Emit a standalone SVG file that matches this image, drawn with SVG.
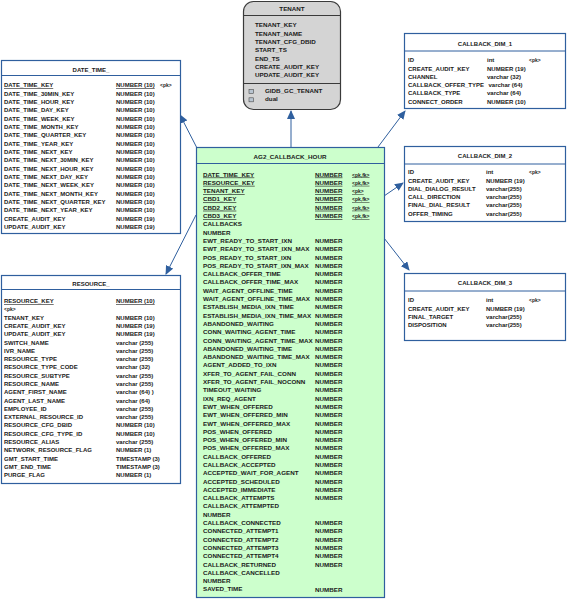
<svg xmlns="http://www.w3.org/2000/svg" width="567" height="599" viewBox="0 0 567 599">
<style>
.bg{fill:#ffffff}
.box{fill:#ffffff;stroke:#2f5f9e;stroke-width:1.2}
.ag2{fill:#ccffcc;stroke:#2f5f9e;stroke-width:1.2}
.ten{fill:#d4d4d4;stroke:#3a3a3a;stroke-width:1.2}
.sep{stroke:#2f5f9e;stroke-width:1}
.tsep{stroke:#3a3a3a;stroke-width:1}
.t{font-family:"Liberation Sans",Arial,sans-serif;font-size:6px;font-weight:bold;fill:#1a1a1a}
.l{font-size:6.25px}
.h{text-anchor:middle}
.pk{font-size:5px}
.u{text-decoration:underline}
.conn{stroke:#2f5f9e;stroke-width:1;fill:none;marker-end:url(#ah)}
.ico{fill:#b8c4d0;stroke:#4a4a4a;stroke-width:0.6}
</style>
<defs>
<marker id="ah" markerUnits="userSpaceOnUse" markerWidth="9" markerHeight="8" refX="8" refY="4" orient="auto">
<path d="M0,0 L9,4 L0,8 z" fill="#2f5f9e"/>
</marker>
</defs>
<rect class="bg" x="0" y="0" width="567" height="599"/>

<g id="connectors">
<line class="conn" x1="291" y1="147" x2="291" y2="111"/>
<line class="conn" x1="198" y1="150" x2="180" y2="115"/>
<line class="conn" x1="378" y1="147" x2="405" y2="111"/>
<line class="conn" x1="384" y1="196" x2="403" y2="183"/>
<line class="conn" x1="384" y1="238" x2="409" y2="270"/>
<line class="conn" x1="196" y1="215" x2="166" y2="274"/>
</g>

<g id="TENANT">
<rect class="ten" x="243.5" y="1.5" width="97" height="108" rx="10"/>
<line class="tsep" x1="243.5" y1="15.5" x2="340.5" y2="15.5"/>
<line class="tsep" x1="243.5" y1="83.5" x2="340.5" y2="83.5"/>
<text class="t l h" x="292" y="11">TENANT</text>
<text class="t l" x="255" y="27.2">TENANT_KEY<tspan x="255" dy="8.35">TENANT_NAME</tspan><tspan x="255" dy="8.35">TENANT_CFG_DBID</tspan><tspan x="255" dy="8.35">START_TS</tspan><tspan x="255" dy="8.35">END_TS</tspan><tspan x="255" dy="8.35">CREATE_AUDIT_KEY</tspan><tspan x="255" dy="8.35">UPDATE_AUDIT_KEY</tspan></text>
<rect class="ico" x="249" y="89.5" width="4.5" height="4"/>
<rect class="ico" x="249" y="97.8" width="4.5" height="4"/>
<text class="t l" x="265" y="92.9">GIDB_GC_TENANT<tspan x="265" dy="8.35">dual</tspan></text>
</g>

<g id="DATE_TIME_">
<rect class="box" x="1.5" y="60.5" width="179" height="173"/>
<line class="sep" x1="1.5" y1="75.5" x2="180.5" y2="75.5"/>
<text class="t h" x="91" y="72">DATE_TIME_</text>
<text class="t" x="4" y="87.2"><tspan class="u">DATE_TIME_KEY</tspan><tspan x="4" dy="8.35">DATE_TIME_30MIN_KEY</tspan><tspan x="4" dy="8.35">DATE_TIME_HOUR_KEY</tspan><tspan x="4" dy="8.35">DATE_TIME_DAY_KEY</tspan><tspan x="4" dy="8.35">DATE_TIME_WEEK_KEY</tspan><tspan x="4" dy="8.35">DATE_TIME_MONTH_KEY</tspan><tspan x="4" dy="8.35">DATE_TIME_QUARTER_KEY</tspan><tspan x="4" dy="8.35">DATE_TIME_YEAR_KEY</tspan><tspan x="4" dy="8.35">DATE_TIME_NEXT_KEY</tspan><tspan x="4" dy="8.35">DATE_TIME_NEXT_30MIN_KEY</tspan><tspan x="4" dy="8.35">DATE_TIME_NEXT_HOUR_KEY</tspan><tspan x="4" dy="8.35">DATE_TIME_NEXT_DAY_KEY</tspan><tspan x="4" dy="8.35">DATE_TIME_NEXT_WEEK_KEY</tspan><tspan x="4" dy="8.35">DATE_TIME_NEXT_MONTH_KEY</tspan><tspan x="4" dy="8.35">DATE_TIME_NEXT_QUARTER_KEY</tspan><tspan x="4" dy="8.35">DATE_TIME_NEXT_YEAR_KEY</tspan><tspan x="4" dy="8.35">CREATE_AUDIT_KEY</tspan><tspan x="4" dy="8.35">UPDATE_AUDIT_KEY</tspan></text>
<text class="t" x="116" y="87.2"><tspan class="u">NUMBER (10)</tspan><tspan x="116" dy="8.35">NUMBER (10)</tspan><tspan x="116" dy="8.35">NUMBER (10)</tspan><tspan x="116" dy="8.35">NUMBER (10)</tspan><tspan x="116" dy="8.35">NUMBER (10)</tspan><tspan x="116" dy="8.35">NUMBER (10)</tspan><tspan x="116" dy="8.35">NUMBER (10)</tspan><tspan x="116" dy="8.35">NUMBER (10)</tspan><tspan x="116" dy="8.35">NUMBER (10)</tspan><tspan x="116" dy="8.35">NUMBER (10)</tspan><tspan x="116" dy="8.35">NUMBER (10)</tspan><tspan x="116" dy="8.35">NUMBER (10)</tspan><tspan x="116" dy="8.35">NUMBER (10)</tspan><tspan x="116" dy="8.35">NUMBER (10)</tspan><tspan x="116" dy="8.35">NUMBER (10)</tspan><tspan x="116" dy="8.35">NUMBER (10)</tspan><tspan x="116" dy="8.35">NUMBER (19)</tspan><tspan x="116" dy="8.35">NUMBER (19)</tspan></text>
<text class="t pk" x="160" y="87">&lt;pk&gt;</text>
</g>

<g id="RESOURCE_">
<rect class="box" x="1.5" y="275.5" width="179" height="208"/>
<line class="sep" x1="1.5" y1="289.5" x2="180.5" y2="289.5"/>
<text class="t h" x="91" y="285.5">RESOURCE_</text>
<text class="t" x="4" y="303.2"><tspan class="u">RESOURCE_KEY</tspan><tspan class="pk" x="4" dy="8.28">&lt;pk&gt;</tspan><tspan x="4" dy="8.28">TENANT_KEY</tspan><tspan x="4" dy="8.28">CREATE_AUDIT_KEY</tspan><tspan x="4" dy="8.28">UPDATE_AUDIT_KEY</tspan><tspan x="4" dy="8.28">SWITCH_NAME</tspan><tspan x="4" dy="8.28">IVR_NAME</tspan><tspan x="4" dy="8.28">RESOURCE_TYPE</tspan><tspan x="4" dy="8.28">RESOURCE_TYPE_CODE</tspan><tspan x="4" dy="8.28">RESOURCE_SUBTYPE</tspan><tspan x="4" dy="8.28">RESOURCE_NAME</tspan><tspan x="4" dy="8.28">AGENT_FIRST_NAME</tspan><tspan x="4" dy="8.28">AGENT_LAST_NAME</tspan><tspan x="4" dy="8.28">EMPLOYEE_ID</tspan><tspan x="4" dy="8.28">EXTERNAL_RESOURCE_ID</tspan><tspan x="4" dy="8.28">RESOURCE_CFG_DBID</tspan><tspan x="4" dy="8.28">RESOURCE_CFG_TYPE_ID</tspan><tspan x="4" dy="8.28">RESOURCE_ALIAS</tspan><tspan x="4" dy="8.28">NETWORK_RESOURCE_FLAG</tspan><tspan x="4" dy="8.28">GMT_START_TIME</tspan><tspan x="4" dy="8.28">GMT_END_TIME</tspan><tspan x="4" dy="8.28">PURGE_FLAG</tspan></text>
<text class="t" x="116" y="303.2"><tspan class="u">NUMBER (10)</tspan><tspan x="116" dy="16.56">NUMBER (10)</tspan><tspan x="116" dy="8.28">NUMBER (19)</tspan><tspan x="116" dy="8.28">NUMBER (19)</tspan><tspan x="116" dy="8.28">varchar (255)</tspan><tspan x="116" dy="8.28">varchar (255)</tspan><tspan x="116" dy="8.28">varchar (255)</tspan><tspan x="116" dy="8.28">varchar (32)</tspan><tspan x="116" dy="8.28">varchar (255)</tspan><tspan x="116" dy="8.28">varchar (255)</tspan><tspan x="116" dy="8.28">varchar (64) )</tspan><tspan x="116" dy="8.28">varchar (64)</tspan><tspan x="116" dy="8.28">varchar (255)</tspan><tspan x="116" dy="8.28">varchar (255)</tspan><tspan x="116" dy="8.28">NUMBER (10)</tspan><tspan x="116" dy="8.28">NUMBER (10)</tspan><tspan x="116" dy="8.28">varchar (255)</tspan><tspan x="116" dy="8.28">NUMBER (1)</tspan><tspan x="116" dy="8.28">TIMESTAMP (3)</tspan><tspan x="116" dy="8.28">TIMESTAMP (3)</tspan><tspan x="116" dy="8.28">NUMBER (1)</tspan></text>
</g>

<g id="AG2_CALLBACK_HOUR">
<rect class="ag2" x="196.5" y="147.5" width="188" height="450"/>
<line class="sep" x1="196.5" y1="163.5" x2="384.5" y2="163.5"/>
<text class="t l h" x="290" y="159.2">AG2_CALLBACK_HOUR</text>
<text class="t l" x="203" y="176.5"><tspan class="u">DATE_TIME_KEY</tspan><tspan class="u" x="203" dy="8.3">RESOURCE_KEY</tspan><tspan class="u" x="203" dy="8.3">TENANT_KEY</tspan><tspan class="u" x="203" dy="8.3">CBD1_KEY</tspan><tspan class="u" x="203" dy="8.3">CBD2_KEY</tspan><tspan class="u" x="203" dy="8.3">CBD3_KEY</tspan><tspan x="203" dy="8.3">CALLBACKS</tspan><tspan x="203" dy="8.3">NUMBER</tspan><tspan x="203" dy="8.3">EWT_READY_TO_START_IXN</tspan><tspan x="203" dy="8.3">EWT_READY_TO_START_IXN_MAX</tspan><tspan x="203" dy="8.3">POS_READY_TO_START_IXN</tspan><tspan x="203" dy="8.3">POS_READY_TO_START_IXN_MAX</tspan><tspan x="203" dy="8.3">CALLBACK_OFFER_TIME</tspan><tspan x="203" dy="8.3">CALLBACK_OFFER_TIME_MAX</tspan><tspan x="203" dy="8.3">WAIT_AGENT_OFFLINE_TIME</tspan><tspan x="203" dy="8.3">WAIT_AGENT_OFFLINE_TIME_MAX</tspan><tspan x="203" dy="8.3">ESTABLISH_MEDIA_IXN_TIME</tspan><tspan x="203" dy="8.3">ESTABLISH_MEDIA_IXN_TIME_MAX</tspan><tspan x="203" dy="8.3">ABANDONED_WAITING</tspan><tspan x="203" dy="8.3">CONN_WAITING_AGENT_TIME</tspan><tspan x="203" dy="8.3">CONN_WAITING_AGENT_TIME_MAX</tspan><tspan x="203" dy="8.3">ABANDONED_WAITING_TIME</tspan><tspan x="203" dy="8.3">ABANDONED_WAITING_TIME_MAX</tspan><tspan x="203" dy="8.3">AGENT_ADDED_TO_IXN</tspan><tspan x="203" dy="8.3">XFER_TO_AGENT_FAIL_CONN</tspan><tspan x="203" dy="8.3">XFER_TO_AGENT_FAIL_NOCONN</tspan><tspan x="203" dy="8.3">TIMEOUT_WAITING</tspan><tspan x="203" dy="8.3">IXN_REQ_AGENT</tspan><tspan x="203" dy="8.3">EWT_WHEN_OFFERED</tspan><tspan x="203" dy="8.3">EWT_WHEN_OFFERED_MIN</tspan><tspan x="203" dy="8.3">EWT_WHEN_OFFERED_MAX</tspan><tspan x="203" dy="8.3">POS_WHEN_OFFERED</tspan><tspan x="203" dy="8.3">POS_WHEN_OFFERED_MIN</tspan><tspan x="203" dy="8.3">POS_WHEN_OFFERED_MAX</tspan><tspan x="203" dy="8.3">CALLBACK_OFFERED</tspan><tspan x="203" dy="8.3">CALLBACK_ACCEPTED</tspan><tspan x="203" dy="8.3">ACCEPTED_WAIT_FOR_AGENT</tspan><tspan x="203" dy="8.3">ACCEPTED_SCHEDULED</tspan><tspan x="203" dy="8.3">ACCEPTED_IMMEDIATE</tspan><tspan x="203" dy="8.3">CALLBACK_ATTEMPTS</tspan><tspan x="203" dy="8.3">CALLBACK_ATTEMPTED</tspan><tspan x="203" dy="8.3">NUMBER</tspan><tspan x="203" dy="8.3">CALLBACK_CONNECTED</tspan><tspan x="203" dy="8.3">CONNECTED_ATTEMPT1</tspan><tspan x="203" dy="8.3">CONNECTED_ATTEMPT2</tspan><tspan x="203" dy="8.3">CONNECTED_ATTEMPT3</tspan><tspan x="203" dy="8.3">CONNECTED_ATTEMPT4</tspan><tspan x="203" dy="8.3">CALLBACK_RETURNED</tspan><tspan x="203" dy="8.3">CALLBACK_CANCELLED</tspan><tspan x="203" dy="8.3">NUMBER</tspan><tspan x="203" dy="8.3">SAVED_TIME</tspan></text>
<text class="t l" x="315" y="176.5"><tspan class="u">NUMBER</tspan><tspan class="u" x="315" dy="8.3">NUMBER</tspan><tspan class="u" x="315" dy="8.3">NUMBER</tspan><tspan class="u" x="315" dy="8.3">NUMBER</tspan><tspan class="u" x="315" dy="8.3">NUMBER</tspan><tspan class="u" x="315" dy="8.3">NUMBER</tspan><tspan x="315" y="242.9">NUMBER</tspan><tspan x="315" dy="8.3">NUMBER</tspan><tspan x="315" dy="8.3">NUMBER</tspan><tspan x="315" dy="8.3">NUMBER</tspan><tspan x="315" dy="8.3">NUMBER</tspan><tspan x="315" dy="8.3">NUMBER</tspan><tspan x="315" dy="8.3">NUMBER</tspan><tspan x="315" dy="8.3">NUMBER</tspan><tspan x="315" dy="8.3">NUMBER</tspan><tspan x="315" dy="8.3">NUMBER</tspan><tspan x="315" dy="8.3">NUMBER</tspan><tspan x="315" dy="8.3">NUMBER</tspan><tspan x="315" dy="8.3">NUMBER</tspan><tspan x="315" dy="8.3">NUMBER</tspan><tspan x="315" dy="8.3">NUMBER</tspan><tspan x="315" dy="8.3">NUMBER</tspan><tspan x="315" dy="8.3">NUMBER</tspan><tspan x="315" dy="8.3">NUMBER</tspan><tspan x="315" dy="8.3">NUMBER</tspan><tspan x="315" dy="8.3">NUMBER</tspan><tspan x="315" dy="8.3">NUMBER</tspan><tspan x="315" dy="8.3">NUMBER</tspan><tspan x="315" dy="8.3">NUMBER</tspan><tspan x="315" dy="8.3">NUMBER</tspan><tspan x="315" dy="8.3">NUMBER</tspan><tspan x="315" dy="8.3">NUMBER</tspan><tspan x="315" dy="8.3">NUMBER</tspan><tspan x="315" dy="8.3">NUMBER</tspan><tspan x="315" dy="8.3">NUMBER</tspan><tspan x="315" dy="8.3">NUMBER</tspan><tspan x="315" dy="8.3">NUMBER</tspan><tspan x="315" dy="8.3">NUMBER</tspan><tspan x="315" y="525.1">NUMBER</tspan><tspan x="315" dy="8.3">NUMBER</tspan><tspan x="315" dy="8.3">NUMBER</tspan><tspan x="315" dy="8.3">NUMBER</tspan><tspan x="315" dy="8.3">NUMBER</tspan><tspan x="315" dy="8.3">NUMBER</tspan><tspan x="315" y="591.5">NUMBER</tspan></text>
<text class="t pk" x="352" y="176.5"><tspan class="u">&lt;pk,fk&gt;</tspan><tspan class="u" x="352" dy="8.3">&lt;pk,fk&gt;</tspan><tspan class="u" x="352" dy="8.3">&lt;pk&gt;</tspan><tspan class="u" x="352" dy="8.3">&lt;pk,fk&gt;</tspan><tspan class="u" x="352" dy="8.3">&lt;pk,fk&gt;</tspan><tspan class="u" x="352" dy="8.3">&lt;pk,fk&gt;</tspan></text>
</g>

<g id="CALLBACK_DIM_1">
<rect class="box" x="404.5" y="33.5" width="161" height="75"/>
<line class="sep" x1="404.5" y1="51" x2="565.5" y2="51"/>
<text class="t h" x="485" y="46.2">CALLBACK_DIM_1</text>
<text class="t" x="408" y="62.2">ID<tspan x="408" dy="8.3">CREATE_AUDIT_KEY</tspan><tspan x="408" dy="8.3">CHANNEL</tspan><tspan x="408" dy="8.3">CALLBACK_OFFER_TYPE</tspan><tspan x="408" dy="8.3">CALLBACK_TYPE</tspan><tspan x="408" dy="8.3">CONNECT_ORDER</tspan></text>
<text class="t" x="487" y="62.2">int<tspan x="487" dy="8.3">NUMBER (19)</tspan><tspan x="487" dy="8.3">varchar (32)</tspan><tspan x="488.5" dy="8.3">varchar (64)</tspan><tspan x="487" dy="8.3">varchar (64)</tspan><tspan x="487" dy="8.3">NUMBER (10)</tspan></text>
<text class="t pk" x="529" y="62">&lt;pk&gt;</text>
</g>

<g id="CALLBACK_DIM_2">
<rect class="box" x="404.5" y="146.5" width="161" height="75"/>
<line class="sep" x1="404.5" y1="164" x2="565.5" y2="164"/>
<text class="t h" x="485" y="158">CALLBACK_DIM_2</text>
<text class="t" x="408" y="174.2">ID<tspan x="408" dy="8.3">CREATE_AUDIT_KEY</tspan><tspan x="408" dy="8.3">DIAL_DIALOG_RESULT</tspan><tspan x="408" dy="8.3">CALL_DIRECTION</tspan><tspan x="408" dy="8.3">FINAL_DIAL_RESULT</tspan><tspan x="408" dy="8.3">OFFER_TIMING</tspan></text>
<text class="t" x="486" y="174.2">int<tspan x="486" dy="8.3">NUMBER (19)</tspan><tspan x="486" dy="8.3">varchar(255)</tspan><tspan x="486" dy="8.3">varchar(255)</tspan><tspan x="486" dy="8.3">varchar(255)</tspan><tspan x="486" dy="8.3">varchar(255)</tspan></text>
<text class="t pk" x="529" y="174">&lt;pk&gt;</text>
</g>

<g id="CALLBACK_DIM_3">
<rect class="box" x="404.5" y="273.5" width="161" height="67"/>
<line class="sep" x1="404.5" y1="291" x2="565.5" y2="291"/>
<text class="t h" x="485" y="285">CALLBACK_DIM_3</text>
<text class="t" x="408" y="302.2">ID<tspan x="408" dy="8.3">CREATE_AUDIT_KEY</tspan><tspan x="408" dy="8.3">FINAL_TARGET</tspan><tspan x="408" dy="8.3">DISPOSITION</tspan></text>
<text class="t" x="486" y="302.2">int<tspan x="486" dy="8.3">NUMBER (19)</tspan><tspan x="486" dy="8.3">varchar(255)</tspan><tspan x="486" dy="8.3">varchar(255)</tspan></text>
<text class="t pk" x="529" y="302">&lt;pk&gt;</text>
</g>
</svg>
